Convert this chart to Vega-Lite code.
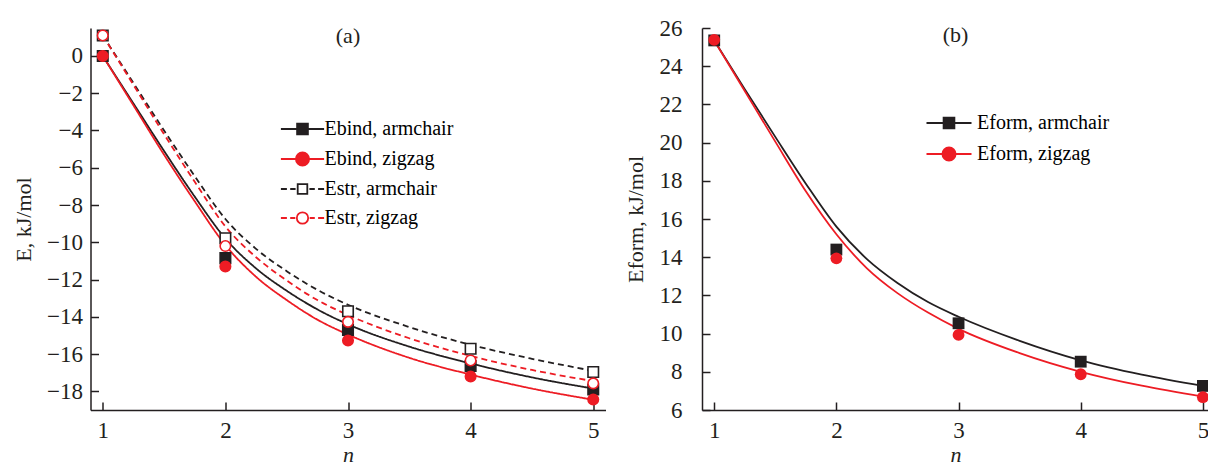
{
  "$schema": "https://vega.github.io/schema/vega-lite/v6.json",
  "padding": {"left": 11.5, "top": 17, "right": 0, "bottom": 0},
  "background": "white",
  "config": {
    "view": {"stroke": null},
    "font": "Liberation Serif",
    "axis": {"grid": false, "domainColor": "#231f20", "domainWidth": 1.5, "tickColor": "#231f20", "tickWidth": 1.5, "tickSize": -8, "labelFont": "Liberation Serif", "labelFontSize": 23, "labelColor": "#231f20", "labelOverlap": false, "titleFont": "Liberation Serif", "titleFontSize": 22, "titleFontWeight": "normal", "titleColor": "#231f20"},
    "title": {"font": "Liberation Serif", "fontSize": 22, "fontWeight": "normal", "color": "#231f20"}
  },
  "resolve": {"scale": {"color": "independent", "strokeDash": "independent", "shape": "independent", "fill": "independent", "stroke": "independent"}, "legend": {"color": "independent", "strokeDash": "independent", "shape": "independent", "fill": "independent", "stroke": "independent"}},
  "datasets": {
    "curvesA": [
      {"series": "Ebind, armchair", "n": 1, "E": 0}, {"series": "Ebind, armchair", "n": 1.25, "E": -2.55}, {"series": "Ebind, armchair", "n": 1.5, "E": -5.1}, {"series": "Ebind, armchair", "n": 1.75, "E": -7.55}, {"series": "Ebind, armchair", "n": 2, "E": -9.8}, {"series": "Ebind, armchair", "n": 2.25, "E": -11.4}, {"series": "Ebind, armchair", "n": 2.5, "E": -12.6}, {"series": "Ebind, armchair", "n": 2.75, "E": -13.6}, {"series": "Ebind, armchair", "n": 3, "E": -14.4}, {"series": "Ebind, armchair", "n": 3.5, "E": -15.6}, {"series": "Ebind, armchair", "n": 4, "E": -16.5}, {"series": "Ebind, armchair", "n": 4.5, "E": -17.25}, {"series": "Ebind, armchair", "n": 5, "E": -17.85},
      {"series": "Ebind, zigzag", "n": 1, "E": 0}, {"series": "Ebind, zigzag", "n": 1.25, "E": -2.65}, {"series": "Ebind, zigzag", "n": 1.5, "E": -5.3}, {"series": "Ebind, zigzag", "n": 1.75, "E": -7.8}, {"series": "Ebind, zigzag", "n": 2, "E": -10.15}, {"series": "Ebind, zigzag", "n": 2.25, "E": -11.85}, {"series": "Ebind, zigzag", "n": 2.5, "E": -13.1}, {"series": "Ebind, zigzag", "n": 2.75, "E": -14.15}, {"series": "Ebind, zigzag", "n": 3, "E": -14.95}, {"series": "Ebind, zigzag", "n": 3.5, "E": -16.2}, {"series": "Ebind, zigzag", "n": 4, "E": -17.1}, {"series": "Ebind, zigzag", "n": 4.5, "E": -17.85}, {"series": "Ebind, zigzag", "n": 5, "E": -18.45},
      {"series": "Estr, armchair", "n": 1, "E": 1.1}, {"series": "Estr, armchair", "n": 1.25, "E": -1.45}, {"series": "Estr, armchair", "n": 1.5, "E": -4.0}, {"series": "Estr, armchair", "n": 1.75, "E": -6.45}, {"series": "Estr, armchair", "n": 2, "E": -8.75}, {"series": "Estr, armchair", "n": 2.25, "E": -10.35}, {"series": "Estr, armchair", "n": 2.5, "E": -11.55}, {"series": "Estr, armchair", "n": 2.75, "E": -12.55}, {"series": "Estr, armchair", "n": 3, "E": -13.35}, {"series": "Estr, armchair", "n": 3.5, "E": -14.55}, {"series": "Estr, armchair", "n": 4, "E": -15.5}, {"series": "Estr, armchair", "n": 4.5, "E": -16.25}, {"series": "Estr, armchair", "n": 5, "E": -16.9},
      {"series": "Estr, zigzag", "n": 1, "E": 1.1}, {"series": "Estr, zigzag", "n": 1.25, "E": -1.55}, {"series": "Estr, zigzag", "n": 1.5, "E": -4.2}, {"series": "Estr, zigzag", "n": 1.75, "E": -6.75}, {"series": "Estr, zigzag", "n": 2, "E": -9.15}, {"series": "Estr, zigzag", "n": 2.25, "E": -10.8}, {"series": "Estr, zigzag", "n": 2.5, "E": -12.05}, {"series": "Estr, zigzag", "n": 2.75, "E": -13.1}, {"series": "Estr, zigzag", "n": 3, "E": -13.9}, {"series": "Estr, zigzag", "n": 3.5, "E": -15.15}, {"series": "Estr, zigzag", "n": 4, "E": -16.1}, {"series": "Estr, zigzag", "n": 4.5, "E": -16.85}, {"series": "Estr, zigzag", "n": 5, "E": -17.45}
    ],
    "pointsA": [
      {"kind": "Ebind, armchair", "n": 1, "E": 0}, {"kind": "Ebind, armchair", "n": 2, "E": -10.85}, {"kind": "Ebind, armchair", "n": 3, "E": -14.7}, {"kind": "Ebind, armchair", "n": 4, "E": -16.64}, {"kind": "Ebind, armchair", "n": 5, "E": -17.9},
      {"kind": "Ebind, zigzag", "n": 1, "E": 0}, {"kind": "Ebind, zigzag", "n": 2, "E": -11.3}, {"kind": "Ebind, zigzag", "n": 3, "E": -15.27}, {"kind": "Ebind, zigzag", "n": 4, "E": -17.2}, {"kind": "Ebind, zigzag", "n": 5, "E": -18.44},
      {"kind": "Estr, armchair", "n": 1, "E": 1.1}, {"kind": "Estr, armchair", "n": 2, "E": -9.78}, {"kind": "Estr, armchair", "n": 3, "E": -13.7}, {"kind": "Estr, armchair", "n": 4, "E": -15.71}, {"kind": "Estr, armchair", "n": 5, "E": -16.96},
      {"kind": "Estr, zigzag", "n": 1, "E": 1.1}, {"kind": "Estr, zigzag", "n": 2, "E": -10.2}, {"kind": "Estr, zigzag", "n": 3, "E": -14.27}, {"kind": "Estr, zigzag", "n": 4, "E": -16.34}, {"kind": "Estr, zigzag", "n": 5, "E": -17.57}
    ],
    "curvesB": [
      {"seriesB": "Eform, armchair", "n": 1, "E": 25.35}, {"seriesB": "Eform, armchair", "n": 1.25, "E": 22.8}, {"seriesB": "Eform, armchair", "n": 1.5, "E": 20.3}, {"seriesB": "Eform, armchair", "n": 1.75, "E": 17.85}, {"seriesB": "Eform, armchair", "n": 2, "E": 15.6}, {"seriesB": "Eform, armchair", "n": 2.25, "E": 13.9}, {"seriesB": "Eform, armchair", "n": 2.5, "E": 12.65}, {"seriesB": "Eform, armchair", "n": 2.75, "E": 11.65}, {"seriesB": "Eform, armchair", "n": 3, "E": 10.88}, {"seriesB": "Eform, armchair", "n": 3.5, "E": 9.62}, {"seriesB": "Eform, armchair", "n": 4, "E": 8.6}, {"seriesB": "Eform, armchair", "n": 4.5, "E": 7.85}, {"seriesB": "Eform, armchair", "n": 5, "E": 7.26},
      {"seriesB": "Eform, zigzag", "n": 1, "E": 25.35}, {"seriesB": "Eform, zigzag", "n": 1.25, "E": 22.7}, {"seriesB": "Eform, zigzag", "n": 1.5, "E": 20.05}, {"seriesB": "Eform, zigzag", "n": 1.75, "E": 17.45}, {"seriesB": "Eform, zigzag", "n": 2, "E": 15.2}, {"seriesB": "Eform, zigzag", "n": 2.25, "E": 13.42}, {"seriesB": "Eform, zigzag", "n": 2.5, "E": 12.12}, {"seriesB": "Eform, zigzag", "n": 2.75, "E": 11.1}, {"seriesB": "Eform, zigzag", "n": 3, "E": 10.25}, {"seriesB": "Eform, zigzag", "n": 3.5, "E": 8.98}, {"seriesB": "Eform, zigzag", "n": 4, "E": 8.0}, {"seriesB": "Eform, zigzag", "n": 4.5, "E": 7.27}, {"seriesB": "Eform, zigzag", "n": 5, "E": 6.7}
    ],
    "pointsB": [
      {"kindB": "Eform, armchair", "n": 1, "E": 25.35}, {"kindB": "Eform, armchair", "n": 2, "E": 14.4}, {"kindB": "Eform, armchair", "n": 3, "E": 10.54}, {"kindB": "Eform, armchair", "n": 4, "E": 8.53}, {"kindB": "Eform, armchair", "n": 5, "E": 7.26},
      {"kindB": "Eform, zigzag", "n": 1, "E": 25.38}, {"kindB": "Eform, zigzag", "n": 2, "E": 13.94}, {"kindB": "Eform, zigzag", "n": 3, "E": 9.93}, {"kindB": "Eform, zigzag", "n": 4, "E": 7.87}, {"kindB": "Eform, zigzag", "n": 5, "E": 6.67}
    ]
  },
  "spacing": 18.5,
  "hconcat": [
    {
      "width": 515,
      "height": 382,
      "title": {"text": "(a)", "offset": -21, "baseline": "top", "frame": "group"},
      "resolve": {"scale": {"color": "independent", "strokeDash": "independent", "shape": "independent", "fill": "independent", "stroke": "independent"}},
      "encoding": {
        "x": {"field": "n", "type": "quantitative", "scale": {"domain": [0.9, 5.1], "nice": false, "zero": false}, "axis": {"values": [1, 2, 3, 4, 5], "format": "d", "title": "n", "titleFontStyle": "italic", "titleFontSize": 22, "labelPadding": 17, "titlePadding": 2, "labelOverlap": false}},
        "y": {"field": "E", "type": "quantitative", "scale": {"domain": [-19, 1.5], "nice": false, "zero": false}, "axis": {"values": [-18, -16, -14, -12, -10, -8, -6, -4, -2, 0], "title": "E, kJ/mol", "labelPadding": 16, "titlePadding": 11.5, "labelOverlap": false}}
      },
      "layer": [
        {
          "data": {"name": "curvesA"},
          "mark": {"type": "line", "interpolate": "monotone", "strokeWidth": 1.8},
          "encoding": {
            "color": {"field": "series", "type": "nominal", "scale": {"domain": ["Estr, zigzag", "Estr, armchair", "Ebind, zigzag", "Ebind, armchair"], "range": ["#ed1c24", "#231f20", "#ed1c24", "#231f20"]}, "legend": null},
            "strokeDash": {"field": "series", "type": "nominal", "scale": {"domain": ["Estr, zigzag", "Estr, armchair", "Ebind, zigzag", "Ebind, armchair"], "range": [[6, 4], [6, 4], [1, 0], [1, 0]]}, "legend": null}
          }
        },
        {
          "data": {"name": "pointsA"},
          "mark": {"type": "point", "filled": false, "strokeWidth": 1.6, "size": 110, "opacity": 1},
          "encoding": {
            "shape": {"field": "kind", "type": "nominal", "scale": {"domain": ["Estr, zigzag", "Estr, armchair", "Ebind, zigzag", "Ebind, armchair"], "range": ["circle", "square", "circle", "square"]}, "legend": null},
            "fill": {"field": "kind", "type": "nominal", "scale": {"domain": ["Estr, zigzag", "Estr, armchair", "Ebind, zigzag", "Ebind, armchair"], "range": ["#ffffff", "#ffffff", "#ed1c24", "#231f20"]}, "legend": null},
            "stroke": {"field": "kind", "type": "nominal", "scale": {"domain": ["Estr, zigzag", "Estr, armchair", "Ebind, zigzag", "Ebind, armchair"], "range": ["#ed1c24", "#231f20", "#ed1c24", "#231f20"]}, "legend": null}
          }
        },
        {
          "data": {"name": "curvesA"},
          "transform": [{"filter": "datum.n > 100"}],
          "mark": {"type": "point", "filled": false, "strokeWidth": 1.8, "size": 144, "opacity": 1},
          "encoding": {
            "shape": {"field": "series", "type": "nominal", "scale": {"domain": ["Ebind, armchair", "Ebind, zigzag", "Estr, armchair", "Estr, zigzag"], "range": ["M-3.6,0L3.6,0M-0.9,-0.9L0.9,-0.9L0.9,0.9L-0.9,0.9Z", "M-3.6,0L3.6,0M1.1,0A1.1,1.1 0 1,1 -1.1,0A1.1,1.1 0 1,1 1.1,0Z", "M-3.6,0L-2.6,0M-2.05,0L-1.15,0M1.15,0L2.05,0M2.6,0L3.6,0M-0.8,-0.8L0.8,-0.8L0.8,0.8L-0.8,0.8Z", "M-3.6,0L-2.6,0M-2.05,0L-1.2,0M1.2,0L2.05,0M2.6,0L3.6,0M0.95,0A0.95,0.95 0 1,1 -0.95,0A0.95,0.95 0 1,1 0.95,0Z"]},
              "legend": {"orient": "none", "legendX": 186, "legendY": 91, "title": null, "padding": 0, "labelFont": "Liberation Serif", "labelFontSize": 20, "symbolSize": 144, "symbolStrokeWidth": 1.8, "symbolOffset": 16, "labelOffset": 12, "rowPadding": 9,
                "encode": {"labels": {"update": {"fill": {"signal": "['#231f20', '#ed1c24', '#231f20', '#ed1c24'][datum.index]"}}}}}},
            "fill": {"field": "series", "type": "nominal", "scale": {"domain": ["Ebind, armchair", "Ebind, zigzag", "Estr, armchair", "Estr, zigzag"], "range": ["#231f20", "#ed1c24", "#ffffff", "#ffffff"]},
              "legend": {"orient": "none", "legendX": 186, "legendY": 91, "title": null, "padding": 0, "labelFont": "Liberation Serif", "labelFontSize": 20, "symbolSize": 144, "symbolStrokeWidth": 1.8, "symbolOffset": 16, "labelOffset": 12, "rowPadding": 9,
                "encode": {"labels": {"update": {"fill": {"signal": "['#231f20', '#ed1c24', '#231f20', '#ed1c24'][datum.index]"}}}}}},
            "stroke": {"field": "series", "type": "nominal", "scale": {"domain": ["Ebind, armchair", "Ebind, zigzag", "Estr, armchair", "Estr, zigzag"], "range": ["#231f20", "#ed1c24", "#231f20", "#ed1c24"]},
              "legend": {"orient": "none", "legendX": 186, "legendY": 91, "title": null, "padding": 0, "labelFont": "Liberation Serif", "labelFontSize": 20, "symbolSize": 144, "symbolStrokeWidth": 1.8, "symbolOffset": 16, "labelOffset": 12, "rowPadding": 9,
                "encode": {"labels": {"update": {"fill": {"signal": "['#231f20', '#ed1c24', '#231f20', '#ed1c24'][datum.index]"}}}}}}
          }
        }
      ]
    },
    {
      "width": 507,
      "height": 382,
      "title": {"text": "(b)", "offset": -30, "baseline": "top", "frame": "group"},
      "resolve": {"scale": {"color": "independent", "shape": "independent", "fill": "independent", "stroke": "independent"}},
      "encoding": {
        "x": {"field": "n", "type": "quantitative", "scale": {"domain": [0.9, 5.05], "nice": false, "zero": false}, "axis": {"values": [1, 2, 3, 4, 5], "format": "d", "title": "n", "titleFontStyle": "italic", "titleFontSize": 22, "labelPadding": 17, "titlePadding": 2, "labelOverlap": false}},
        "y": {"field": "E", "type": "quantitative", "scale": {"domain": [6, 26], "nice": false, "zero": false}, "axis": {"values": [6, 8, 10, 12, 14, 16, 18, 20, 22, 24, 26], "title": "Eform, kJ/mol", "labelPadding": 28, "titlePadding": 11.2, "labelOverlap": false}}
      },
      "layer": [
        {
          "data": {"name": "curvesB"},
          "mark": {"type": "line", "interpolate": "monotone", "strokeWidth": 1.8},
          "encoding": {
            "color": {"field": "seriesB", "type": "nominal", "scale": {"domain": ["Eform, zigzag", "Eform, armchair"], "range": ["#ed1c24", "#231f20"]}, "legend": null}
          }
        },
        {
          "data": {"name": "pointsB"},
          "mark": {"type": "point", "filled": true, "size": 140, "opacity": 1},
          "encoding": {
            "shape": {"field": "kindB", "type": "nominal", "scale": {"domain": ["Eform, zigzag", "Eform, armchair"], "range": ["circle", "square"]}, "legend": null},
            "fill": {"field": "kindB", "type": "nominal", "scale": {"domain": ["Eform, zigzag", "Eform, armchair"], "range": ["#ed1c24", "#231f20"]}, "legend": null}
          }
        },
        {
          "data": {"name": "curvesB"},
          "transform": [{"filter": "datum.n > 100"}],
          "mark": {"type": "point", "filled": false, "strokeWidth": 1.8, "size": 144, "opacity": 1},
          "encoding": {
            "shape": {"field": "seriesB", "type": "nominal", "scale": {"domain": ["Eform, armchair", "Eform, zigzag"], "range": ["M-3.75,0L3.75,0M-0.9,-0.9L0.9,-0.9L0.9,0.9L-0.9,0.9Z", "M-3.75,0L3.75,0M1.1,0A1.1,1.1 0 1,1 -1.1,0A1.1,1.1 0 1,1 1.1,0Z"]},
              "legend": {"orient": "none", "legendX": 220, "legendY": 85, "title": null, "padding": 0, "labelFont": "Liberation Serif", "labelFontSize": 20, "symbolSize": 144, "symbolStrokeWidth": 1.8, "symbolOffset": 17, "labelOffset": 18, "rowPadding": 10,
                "encode": {"labels": {"update": {"fill": {"signal": "['#231f20', '#ed1c24'][datum.index]"}}}}}},
            "fill": {"field": "seriesB", "type": "nominal", "scale": {"domain": ["Eform, armchair", "Eform, zigzag"], "range": ["#231f20", "#ed1c24"]},
              "legend": {"orient": "none", "legendX": 220, "legendY": 85, "title": null, "padding": 0, "labelFont": "Liberation Serif", "labelFontSize": 20, "symbolSize": 144, "symbolStrokeWidth": 1.8, "symbolOffset": 17, "labelOffset": 18, "rowPadding": 10,
                "encode": {"labels": {"update": {"fill": {"signal": "['#231f20', '#ed1c24'][datum.index]"}}}}}},
            "stroke": {"field": "seriesB", "type": "nominal", "scale": {"domain": ["Eform, armchair", "Eform, zigzag"], "range": ["#231f20", "#ed1c24"]},
              "legend": {"orient": "none", "legendX": 220, "legendY": 85, "title": null, "padding": 0, "labelFont": "Liberation Serif", "labelFontSize": 20, "symbolSize": 144, "symbolStrokeWidth": 1.8, "symbolOffset": 17, "labelOffset": 18, "rowPadding": 10,
                "encode": {"labels": {"update": {"fill": {"signal": "['#231f20', '#ed1c24'][datum.index]"}}}}}}
          }
        }
      ]
    }
  ]
}
